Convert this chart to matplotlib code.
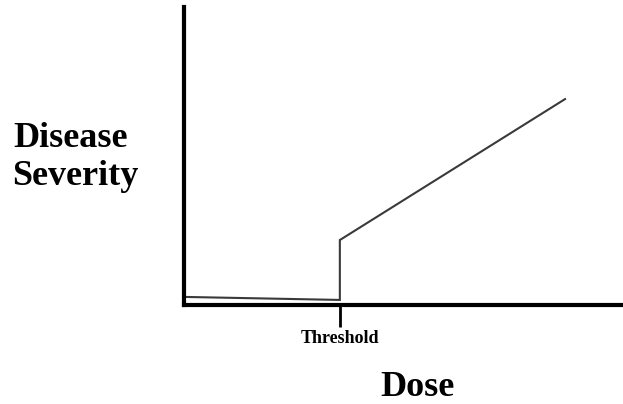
import matplotlib
matplotlib.use("Agg")
import matplotlib.pyplot as plt

# Data (dose, severity) in arbitrary units
dose = [0.05, 3.55, 3.55, 8.68]
severity = [0.27, 0.17, 2.18, 6.91]
threshold = 3.55
tick_labels = ["Threshold"]

W, H = 623, 404
fig = plt.figure(figsize=(W / 100, H / 100), dpi=100)
ax = fig.add_axes([184 / W, 99 / H, (W - 184) / W, 298 / H])
ax.set_xlim(0, 10)
ax.set_ylim(0, 10)

ax.plot(dose, severity, color="#3a3a3a", lw=1.5, solid_joinstyle="miter")

for s in ("top", "right"):
    ax.spines[s].set_visible(False)
for s in ("left", "bottom"):
    ax.spines[s].set_linewidth(3)
    ax.spines[s].set_color("black")

ax.set_yticks([])
ax.set_xticks([threshold])
ax.set_xticklabels(tick_labels, fontfamily="Liberation Serif", fontweight="bold", fontsize=13)
ax.tick_params(axis="x", length=16, width=2, pad=2, color="black")

serif = dict(fontfamily="Liberation Serif", fontweight="bold", fontsize=26, color="black")
fig.text(13 / W, (H - 147) / H, "Disease", ha="left", va="baseline", **serif)
fig.text(12 / W, (H - 185) / H, "Severity", ha="left", va="baseline", **serif)
fig.text(417 / W, (H - 396) / H, "Dose", ha="center", va="baseline", **serif)

fig.savefig("out.png", dpi=100)
